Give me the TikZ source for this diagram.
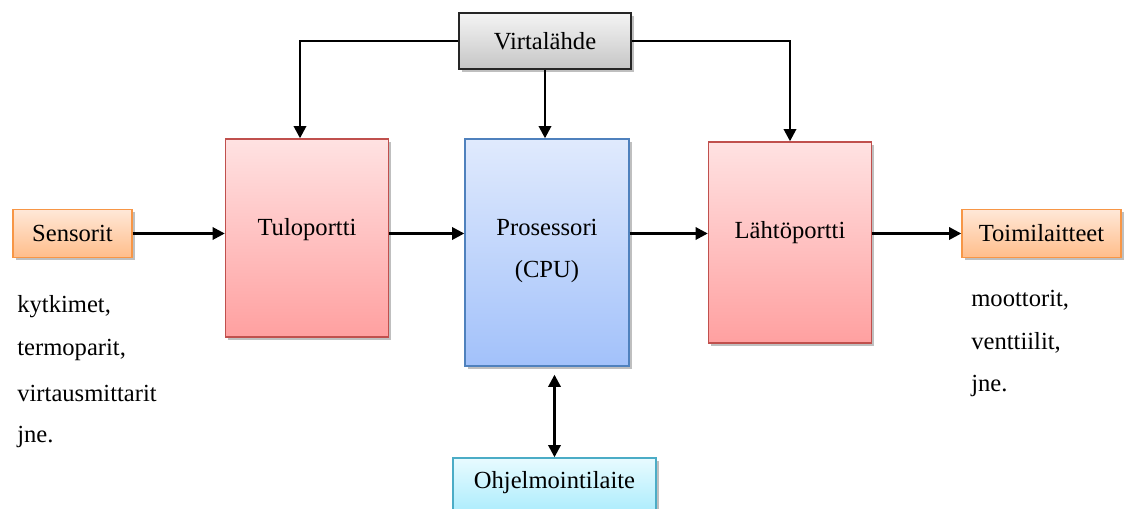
\documentclass[tikz,border=0pt]{standalone}
\usepackage{fontspec}
\setmainfont{Liberation Serif}
\usepackage{xcolor}
\usepackage{tikz}
\usetikzlibrary{arrows.meta,positioning,shadows}
\definecolor{grayTop}{HTML}{F4F4F4}
\definecolor{grayBot}{HTML}{C6C6C6}
\definecolor{redTop}{HTML}{FFE2E2}
\definecolor{redBot}{HTML}{FFA0A0}
\definecolor{redLine}{HTML}{C0504D}
\definecolor{blueTop}{HTML}{E0EAFD}
\definecolor{blueBot}{HTML}{A2C1FA}
\definecolor{blueLine}{HTML}{4F81BD}
\definecolor{orTop}{HTML}{FFE8D8}
\definecolor{orBot}{HTML}{FFBD8A}
\definecolor{orLine}{HTML}{F79646}
\definecolor{cyTop}{HTML}{E8FBFF}
\definecolor{cyBot}{HTML}{A6EBFC}
\definecolor{cyLine}{HTML}{4BACC6}

\begin{document}
\begin{tikzpicture}[x=0.02cm, y=-0.02cm, font=\fontsize{14}{17}\selectfont,
  box/.style={draw, line width=0.8pt, inner sep=0pt,
    drop shadow={shadow xshift=1.5pt, shadow yshift=-1.5pt, opacity=0.25, fill=black}},
  power/.style={box, draw=black!85, top color=grayTop, bottom color=grayBot,
    minimum width=3.44cm, minimum height=1.12cm},
  port/.style={box, draw=redLine, top color=redTop, bottom color=redBot, minimum width=3.26cm},
  proc/.style={box, draw=blueLine, top color=blueTop, bottom color=blueBot,
    minimum width=3.28cm, minimum height=4.54cm},
  dev/.style={box, draw=orLine, top color=orTop, bottom color=orBot, minimum height=0.97cm},
  prog/.style={box, draw=cyLine, top color=cyTop, bottom color=cyBot,
    minimum width=4.06cm, minimum height=1.2cm},
  txt/.style={anchor=west, inner sep=0pt},
  arr/.style={-{Triangle[length=7pt, width=7pt]}, line width=1.5pt},
  dbl/.style={{Triangle[length=7pt, width=7pt]}-{Triangle[length=7pt, width=7pt]}, line width=1.5pt}]
\useasboundingbox (0,0) rectangle (1127,509);
% --- power supply ---
\node[power] (vl) at (545,41) {Virtalähde};
% --- input port, processor, output port ---
\node[port, minimum height=3.96cm] (tulo) at (307,238) {};
\node (tulotxt) at (307,230) {Tuloportti};
\node[proc] (cpu) at (547,252.5) {};
\node (cpua) at (547,227) {Prosessori};
\node (cpub) at (547,272) {(CPU)};
\node[port, minimum height=4.02cm] (lahto) at (790,242.5) {};
\node (lahtotxt) at (790,233) {Lähtöportti};
% --- sensors and actuators ---
\node[dev, minimum width=2.38cm] (sens) at (72.5,233.5) {Sensorit};
\node[dev, minimum width=3.18cm] (toimi) at (1041.5,233.5) {Toimilaitteet};
\node[txt] (s1) at (17,307) {kytkimet,};
\node[txt] (s2) at (17,350) {termoparit,};
\node[txt] (s3) at (17,393) {virtausmittarit};
\node[txt] (s4) at (17,437) {jne.};
\node[txt] (t1) at (971,300) {moottorit,};
\node[txt] (t2) at (971,343) {venttiilit,};
\node[txt] (t3) at (971,386) {jne.};
% --- programming device ---
\node[prog] (ohj) at (554.5,488) {};
\node (ohjtxt) at (554.5,483) {Ohjelmointilaite};
% --- connectors ---
\draw[arr] (vl.west) -| ([xshift=-0.14cm]tulo.north);
\draw[arr] (vl.east) -| (lahto.north);
\draw[arr] (vl.south) -- (vl.south |- cpu.north);
\draw[arr] (sens.east) -- (sens.east -| tulo.west);
\draw[arr] (sens.east -| tulo.east) -- (sens.east -| cpu.west);
\draw[arr] (sens.east -| cpu.east) -- (sens.east -| lahto.west);
\draw[arr] (sens.east -| lahto.east) -- (sens.east -| toimi.west);
\draw[dbl, shorten >=0.16cm] (ohj.north) -- (ohj.north |- cpu.south);
\end{tikzpicture}
\end{document}
